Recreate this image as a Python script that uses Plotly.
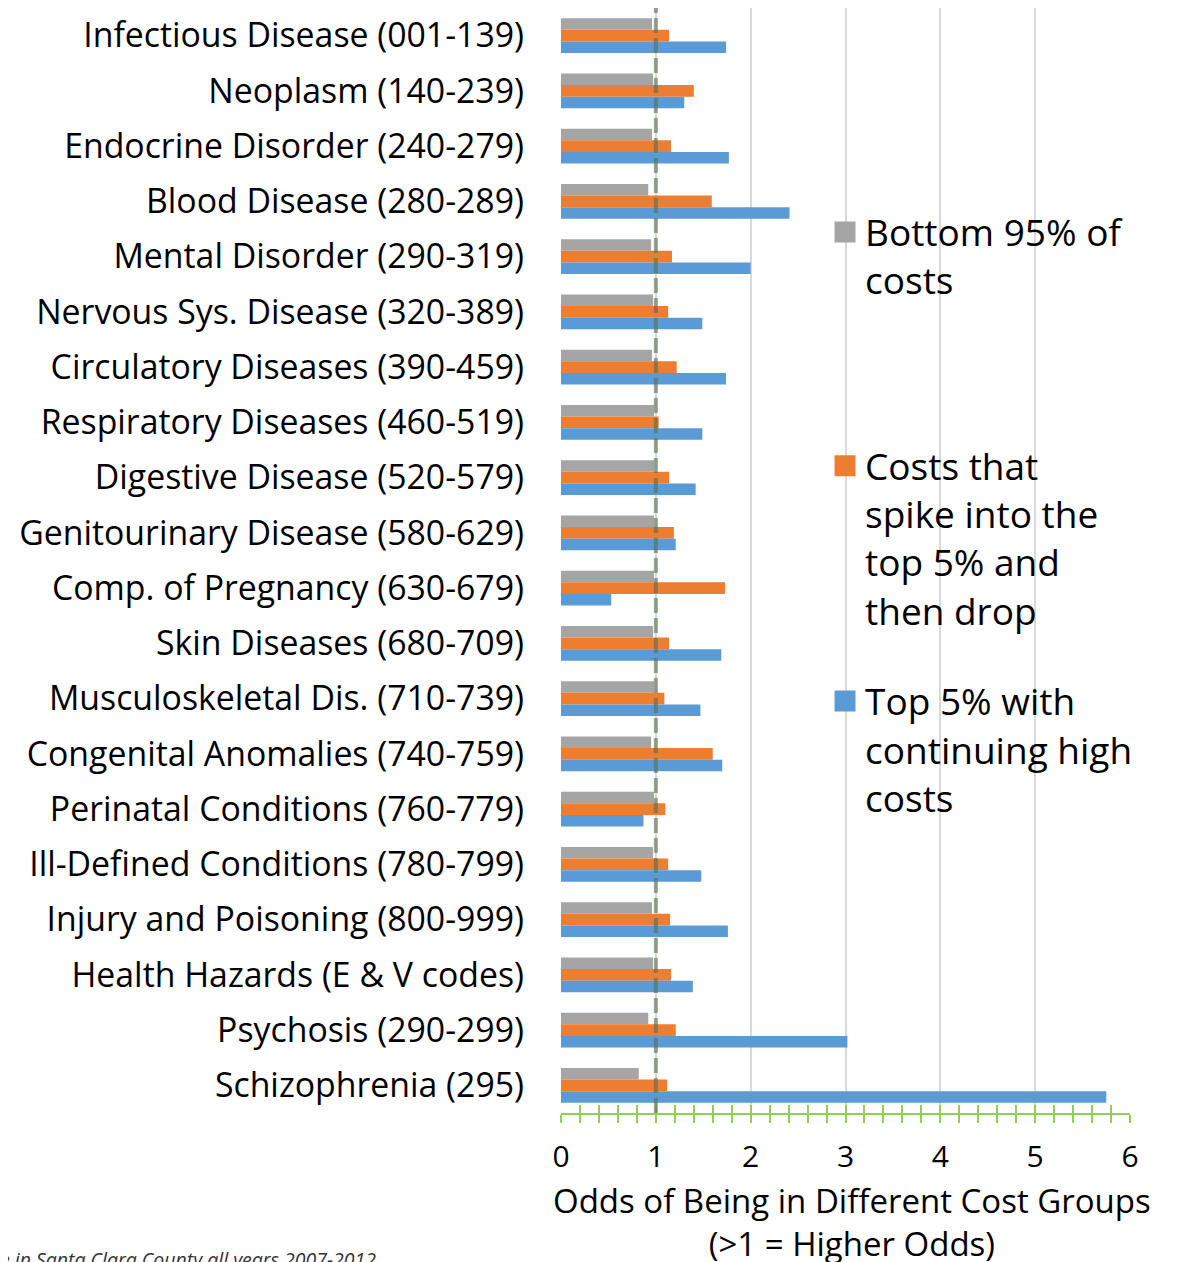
import plotly.graph_objects as go

categories = [
    "Infectious Disease (001-139)",
    "Neoplasm (140-239)",
    "Endocrine Disorder (240-279)",
    "Blood Disease (280-289)",
    "Mental Disorder (290-319)",
    "Nervous Sys. Disease (320-389)",
    "Circulatory Diseases (390-459)",
    "Respiratory Diseases (460-519)",
    "Digestive Disease (520-579)",
    "Genitourinary Disease (580-629)",
    "Comp. of Pregnancy (630-679)",
    "Skin Diseases (680-709)",
    "Musculoskeletal Dis. (710-739)",
    "Congenital Anomalies (740-759)",
    "Perinatal Conditions (760-779)",
    "Ill-Defined Conditions (780-799)",
    "Injury and Poisoning (800-999)",
    "Health Hazards (E & V codes)",
    "Psychosis (290-299)",
    "Schizophrenia (295)",
]

bottom95 = [0.96, 0.97, 0.96, 0.92, 0.95, 0.97, 0.96, 0.98, 0.98, 0.98,
            0.98, 0.97, 0.98, 0.95, 0.98, 0.97, 0.96, 0.97, 0.92, 0.82]
spike_drop = [1.14, 1.40, 1.16, 1.59, 1.17, 1.13, 1.22, 1.03, 1.14, 1.19,
              1.73, 1.14, 1.09, 1.60, 1.10, 1.13, 1.15, 1.16, 1.21, 1.12]
top5_high = [1.74, 1.30, 1.77, 2.41, 2.00, 1.49, 1.74, 1.49, 1.42, 1.21,
             0.53, 1.69, 1.47, 1.70, 0.87, 1.48, 1.76, 1.39, 3.02, 5.75]

series_names = [
    "Bottom 95% of<br>costs",
    "Costs that<br>spike into the<br>top 5% and<br>then drop",
    "Top 5% with<br>continuing high<br>costs",
]
series_colors = ["#A5A5A5", "#ED7D31", "#5B9BD5"]
x_ticks = [0, 1, 2, 3, 4, 5, 6]
x_title = "Odds of Being in Different Cost Groups<br>(>1 = Higher Odds)"
reference_odds = 1

FONT = "Open Sans"
fig = go.Figure()
legends = ["legend", "legend2", "legend3"]
for vals, name, col, lg in zip([bottom95, spike_drop, top5_high], series_names, series_colors, legends):
    fig.add_trace(go.Bar(
        y=categories, x=vals, orientation="h", name=name, showlegend=False,
        marker=dict(color=col, line=dict(width=0)),
    ))
    # legend entry with a larger square symbol
    fig.add_trace(go.Scatter(
        x=[None], y=[None], mode="markers", name=name, legend=lg,
        marker=dict(symbol="square", size=16, color=col, line=dict(color=col, width=5)),
    ))

# invisible trace for the overlay axis (cross ticks)
fig.add_trace(go.Scatter(x=[0, 6], y=[categories[0], categories[0]], xaxis="x2",
                         mode="lines", line=dict(width=0), showlegend=False, hoverinfo="skip"))

green = "#92D050"
n = len(categories)
fig.update_layout(
    width=1171, height=1254,
    margin=dict(l=553, r=49, t=0, b=149),
    paper_bgcolor="white", plot_bgcolor="white",
    barmode="group", bargap=0.368, bargroupgap=0,
    font=dict(family=FONT, color="black", size=33),
    xaxis=dict(
        range=[0, 6], tickvals=x_ticks, showgrid=True, gridcolor="#D9D9D9", gridwidth=1.5,
        zeroline=False, showline=True, linecolor=green, linewidth=2,
        ticks="outside", ticklen=8, tickwidth=1.5, tickcolor=green,
        minor=dict(dtick=0.2, ticks="outside", ticklen=8, tickwidth=1.5, tickcolor=green, showgrid=False),
        tickfont=dict(size=30, family=FONT), ticklabelstandoff=8,
    ),
    xaxis2=dict(
        overlaying="x", matches="x", side="bottom", range=[0, 6], tickvals=x_ticks,
        showgrid=False, zeroline=False, showline=False, showticklabels=False,
        ticks="inside", ticklen=8, tickwidth=1.5, tickcolor=green,
        minor=dict(dtick=0.2, ticks="inside", ticklen=8, tickwidth=1.5, tickcolor=green, showgrid=False),
    ),
    yaxis=dict(
        range=[n - 0.5, -0.5], showgrid=False, zeroline=False, showline=False,
        ticks="", tickfont=dict(size=33.8, family=FONT), ticklabelstandoff=36,
    ),
    legend=dict(x=0.464, y=0.825, xanchor="left", yanchor="top", valign="top",
                bgcolor="rgba(0,0,0,0)", font=dict(size=37, family=FONT)),
    legend2=dict(x=0.464, y=0.6133, xanchor="left", yanchor="top", valign="top",
                 bgcolor="rgba(0,0,0,0)", font=dict(size=37, family=FONT)),
    legend3=dict(x=0.464, y=0.4005, xanchor="left", yanchor="top", valign="top",
                 bgcolor="rgba(0,0,0,0)", font=dict(size=37, family=FONT)),
    shapes=[dict(type="line", xref="x", yref="paper", x0=reference_odds, x1=reference_odds,
                 y0=0, y1=1, layer="above",
                 line=dict(color="rgba(85,110,75,0.6)", width=4, dash="15px,5px"))],
    annotations=[
        dict(text=x_title, xref="paper", yref="paper", x=0.5, xshift=6, xanchor="center",
             y=0, yshift=-109, yanchor="middle", showarrow=False,
             font=dict(size=33, family=FONT, color="black")),
        dict(text="e in Santa Clara County all years 2007-2012", xref="paper", yref="paper",
             x=0, xshift=-553 + 370, xanchor="right", y=0, yshift=-131, yanchor="top",
             showarrow=False, font=dict(size=19.5, family=FONT, style="italic", color="#333")),
    ],
)

fig.write_html("out.html")
